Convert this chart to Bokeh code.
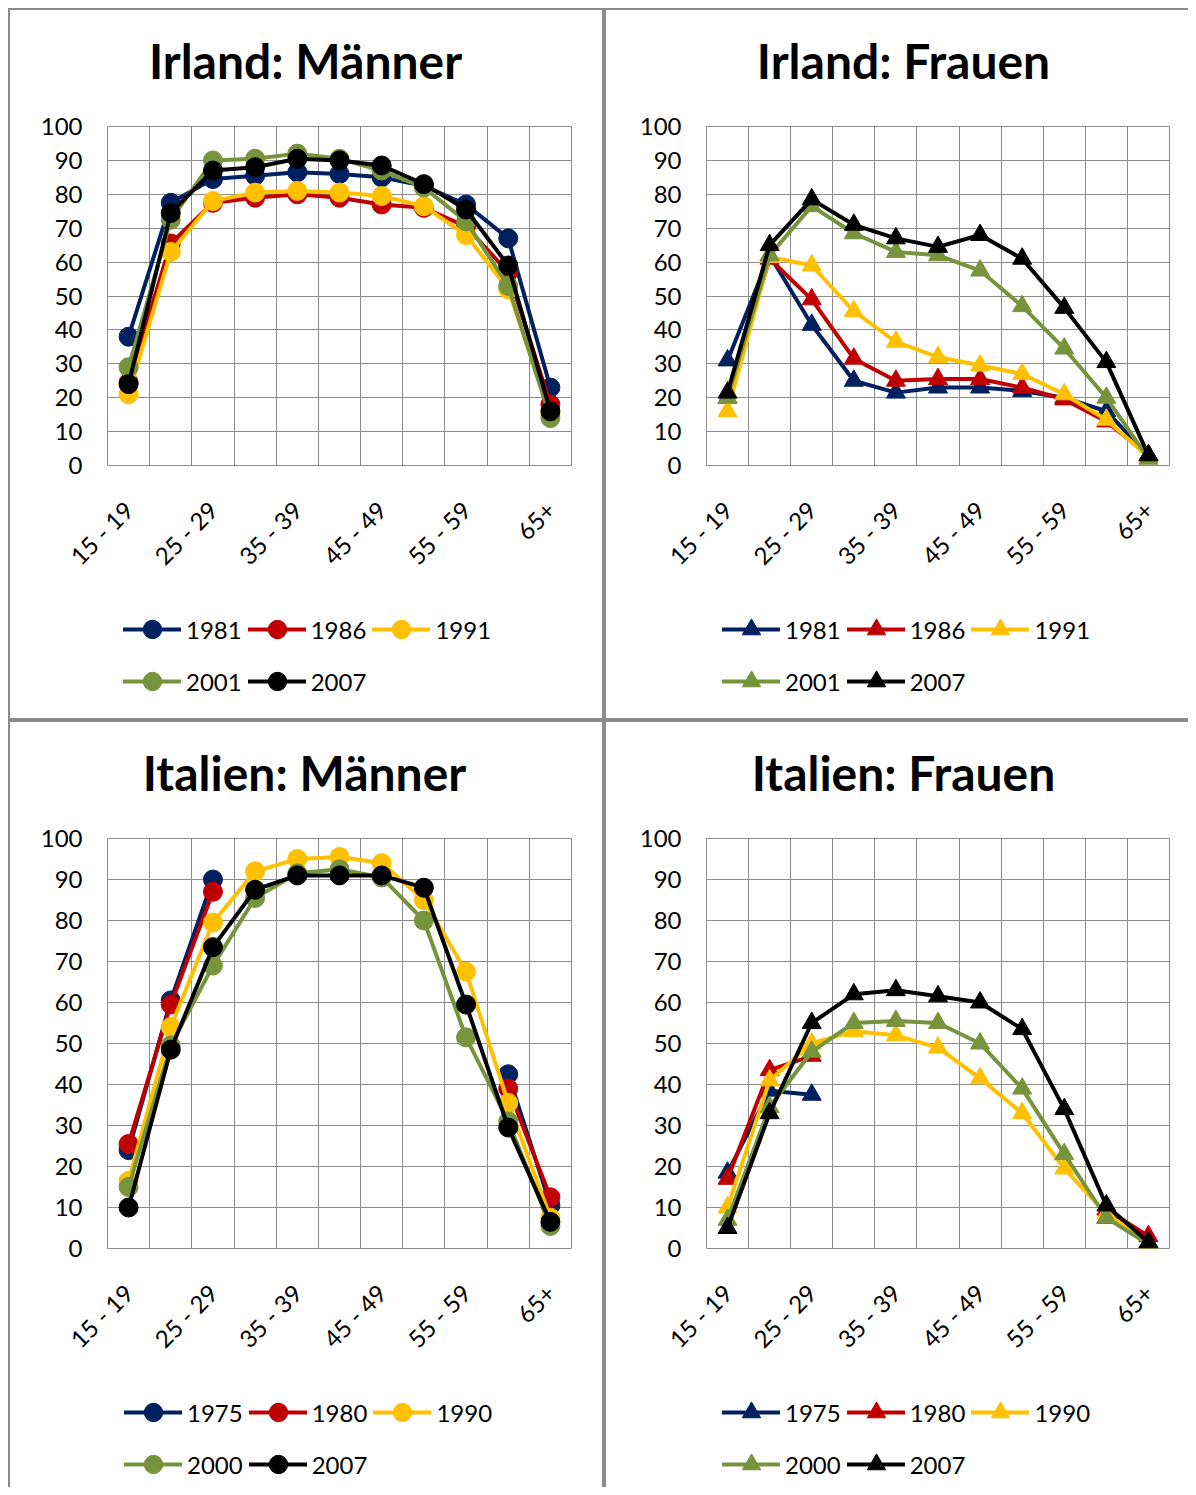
import math
import numpy as np
from bokeh.plotting import figure
from bokeh.models import Range1d, FixedTicker, Legend, LegendItem, Label
from bokeh.layouts import row, column
from bokeh.embed import file_html
from bokeh.resources import INLINE
from bokeh.core.properties import value

nan = float("nan")

# ---------------- data ----------------
age_groups = ["15 - 19", "20 - 24", "25 - 29", "30 - 34", "35 - 39", "40 - 44",
              "45 - 49", "50 - 54", "55 - 59", "60 - 64", "65+"]
shown_ticks = [0, 2, 4, 6, 8, 10]
y_ticks = [0, 10, 20, 30, 40, 50, 60, 70, 80, 90, 100]

irl_years = ["1981", "1986", "1991", "2001", "2007"]
ita_years = ["1975", "1980", "1990", "2000", "2007"]

irl_m_1981 = [38, 77.5, 84.5, 85.5, 86.5, 86, 85, 82.5, 77, 67, 23]
irl_m_1986 = [24.5, 65.5, 77.5, 79, 80, 79, 77, 76, 70.5, 57, 18]
irl_m_1991 = [21, 63, 78, 80.5, 81, 80.5, 79.5, 76.5, 68, 52, 15]
irl_m_2001 = [29, 72.5, 90, 90.5, 92, 90.5, 87, 82, 72, 53, 14]
irl_m_2007 = [24, 74.5, 87, 88, 90.5, 90, 88.5, 83, 75.5, 59, 16]

irl_f_1981 = [31, 62, 41.5, 25, 21.5, 23, 23, 22, 20, 16, 3]
irl_f_1986 = [20, 61, 49, 31.5, 25, 25.5, 25.5, 23, 19.5, 13, 3]
irl_f_1991 = [16, 61.5, 59, 45.5, 36.5, 32, 29.5, 27, 21, 13.5, 2.5]
irl_f_2001 = [20, 62, 76.5, 68.5, 63, 62, 57.5, 47, 34.5, 20, 2]
irl_f_2007 = [21.5, 65, 78.5, 71, 67, 64.5, 68, 61, 46.5, 30.5, 3]

ita_m_1975 = [24, 60.5, 90, nan, nan, nan, nan, nan, nan, 42.5, 10.5]
ita_m_1980 = [25.5, 59.5, 87, nan, nan, nan, nan, nan, nan, 39, 12.5]
ita_m_1990 = [16.5, 54, 79.5, 92, 95, 95.5, 94, 85, 67.5, 35.5, 7.5]
ita_m_2000 = [15, 49.5, 69, 85.5, 91.5, 92.5, 90.5, 80, 51.5, 31, 5.5]
ita_m_2007 = [10, 48.5, 73.5, 87.5, 91, 91, 91, 88, 59.5, 29.5, 6.5]

ita_f_1975 = [18.5, 38.5, 37.5, nan, nan, nan, nan, nan, nan, 7.5, 1.5]
ita_f_1980 = [17, 43.5, 47, nan, nan, nan, nan, nan, nan, 9.5, 3]
ita_f_1990 = [10, 41, 50, 53, 52, 49, 41.5, 33, 19.5, 8.5, 1]
ita_f_2000 = [7, 34.5, 48, 55, 55.5, 55, 50, 39, 23, 7.5, 1]
ita_f_2007 = [5, 33, 55, 62, 63, 61.5, 60, 53.5, 34, 10.5, 1.5]

colors = ["#002060", "#C00000", "#FFC000", "#77933C", "#000000"]

FONT = "Lato"
GRID = "#8c8c8c"
BCOL = "2px solid #8c8c8c"
TITLE_H = 96
LEG_H = 98  # two legend rows


def strip_fig(width, height, left, right, x_range, y_range):
    f = figure(width=width, height=height, x_range=x_range, y_range=y_range,
               output_backend="svg", toolbar_location=None,
               x_axis_location=None, y_axis_location=None,
               min_border_left=left, min_border_right=right,
               min_border_top=0, min_border_bottom=0,
               outline_line_color=None, background_fill_color="white",
               border_fill_color="white")
    f.xgrid.visible = False
    f.ygrid.visible = False
    return f


def make_panel(title, years, series, marker, marker_size, width, inner_h,
               frame_left, frame_w, frame_h, title_x, legend_x, styles):
    frame_right = width - frame_left - frame_w
    x = np.arange(len(age_groups), dtype=float)

    # ---- title strip (frame aligned with the chart frame) ----
    tf = strip_fig(width, TITLE_H, frame_left, frame_right, Range1d(0, 1), Range1d(0, 1))
    tf.add_layout(Label(x=title_x, y=TITLE_H - 50, x_units="screen", y_units="screen",
                        text=title, text_font=FONT, text_font_style="bold",
                        text_font_size="48px", text_color="black",
                        text_align="center", text_baseline="middle"))

    # ---- main chart ----
    main_h = 20 + frame_h + 141
    p = figure(width=width, height=main_h,
               x_range=Range1d(-0.5, 10.5), y_range=Range1d(0, 100),
               output_backend="svg", toolbar_location=None,
               min_border_left=frame_left, min_border_right=frame_right,
               min_border_top=20, min_border_bottom=141,
               background_fill_color="white", border_fill_color="white",
               outline_line_color=GRID, outline_line_width=1)
    for vals, col in zip(series, colors):
        y = np.array(vals, dtype=float)
        p.line(x, y, line_color=col, line_width=4, line_join="round", line_cap="round")
        p.scatter(x, y, marker=marker, size=marker_size, fill_color=col, line_color=col)

    xa = p.xaxis[0]
    xa.ticker = FixedTicker(ticks=shown_ticks)
    xa.major_label_overrides = {t: age_groups[t] for t in shown_ticks}
    xa.major_label_orientation = math.pi / 4
    ya = p.yaxis[0]
    ya.ticker = FixedTicker(ticks=y_ticks)
    for ax in (xa, ya):
        ax.major_label_text_font = FONT
        ax.major_label_text_font_size = "24px"
        ax.major_label_text_color = "black"
        ax.major_tick_in = 0
        ax.major_tick_out = 0
        ax.minor_tick_in = 0
        ax.minor_tick_out = 0
        ax.axis_line_color = None
    xa.major_label_standoff = 40
    ya.major_label_standoff = 25
    p.xgrid.ticker = FixedTicker(ticks=[i + 0.5 for i in range(10)])
    p.xgrid.grid_line_color = GRID
    p.ygrid.grid_line_color = GRID

    # ---- legend strip (same series, ranges placed away from the data) ----
    leg_fig_h = inner_h - TITLE_H - main_h
    lf = strip_fig(width, leg_fig_h, frame_left, frame_right,
                   Range1d(-20, -19), Range1d(-20, -19))
    items = []
    for yr, vals, col in zip(years, series, colors):
        y = np.array(vals, dtype=float)
        ln = lf.line(x, y, line_color=col, line_width=4, line_cap="round")
        sc = lf.scatter(x, y, marker=marker, size=marker_size,
                        fill_color=col, line_color=col)
        items.append(LegendItem(label=value(yr), renderers=[ln, sc]))
    leg = Legend(items=items, location=(legend_x, leg_fig_h - LEG_H),
                 orientation="horizontal", ncols=3,
                 glyph_width=58, glyph_height=46, label_standoff=5, spacing=6,
                 padding=0, margin=0, label_text_font=FONT,
                 label_text_font_size="24px", label_text_color="black",
                 border_line_alpha=0, background_fill_alpha=0)
    lf.add_layout(leg, "center")

    return column(tf, p, lf, spacing=0, styles=styles)


c1 = make_panel("Irland: Männer", irl_years,
                [irl_m_1981, irl_m_1986, irl_m_1991, irl_m_2001, irl_m_2007],
                "circle", 19, 592, 708, 97, 464, 339, 198, 16,
                {"border": BCOL})
c2 = make_panel("Irland: Frauen", irl_years,
                [irl_f_1981, irl_f_1986, irl_f_1991, irl_f_2001, irl_f_2007],
                "triangle", 19, 582, 708, 100, 463, 339, 197, 16,
                {"border-top": BCOL, "border-left": BCOL, "border-bottom": BCOL})
c3 = make_panel("Italien: Männer", ita_years,
                [ita_m_1975, ita_m_1980, ita_m_1990, ita_m_2000, ita_m_2007],
                "circle", 19, 592, 765, 97, 464, 410, 197, 17,
                {"border-top": BCOL, "border-left": BCOL, "border-right": BCOL})
c4 = make_panel("Italien: Frauen", ita_years,
                [ita_f_1975, ita_f_1980, ita_f_1990, ita_f_2000, ita_f_2007],
                "triangle", 19, 582, 765, 100, 463, 410, 197, 16,
                {"border-top": BCOL, "border-left": BCOL})

layout = column(row(c1, c2, spacing=0), row(c3, c4, spacing=0), spacing=0,
                styles={"margin-left": "8px", "margin-top": "8px"})

with open("out.html", "w") as f:
    f.write(file_html(layout, INLINE))
